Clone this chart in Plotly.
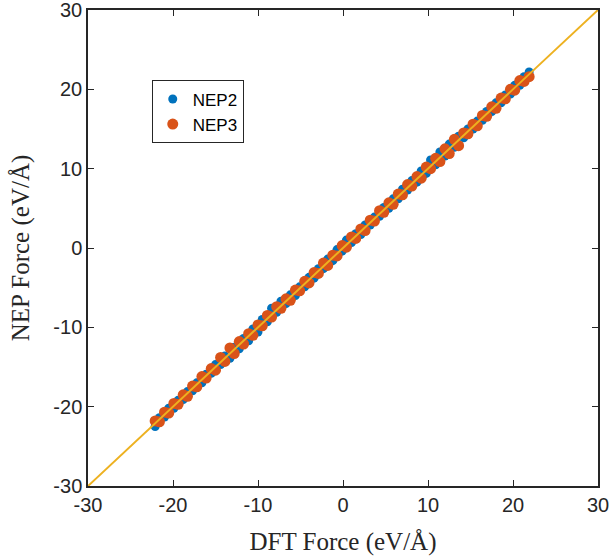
import plotly.graph_objects as go

dft = [-22.1, -21.6, -21.0, -20.5, -19.9, -19.4, -18.8, -18.3, -17.7, -17.2, -16.6, -16.1, -15.5, -15.0,
       -14.4, -13.9, -13.3, -12.8, -12.2, -11.7, -11.1, -10.6, -10.0, -9.5, -8.9, -8.4, -7.8, -7.3, -6.7,
       -6.2, -5.6, -5.1, -4.5, -4.0, -3.4, -2.9, -2.3, -1.8, -1.2, -0.7, -0.1, 0.4, 1.0, 1.5, 2.1, 2.6,
       3.2, 3.7, 4.3, 4.8, 5.4, 5.9, 6.5, 7.0, 7.6, 8.1, 8.7, 9.2, 9.8, 10.3, 10.9, 11.4, 12.0, 12.5,
       13.1, 13.6, 14.2, 14.7, 15.3, 15.8, 16.4, 16.9, 17.5, 18.0, 18.6, 19.1, 19.7, 20.2, 20.8, 21.3, 21.9]

nep2 = [-22.5, -21.4, -21.3, -20.2, -20.2, -19.2, -19.1, -18.1, -18.0, -17.0, -17.0, -15.9, -15.8, -14.7,
        -14.7, -13.6, -13.9, -12.5, -12.7, -11.4, -11.7, -10.2, -10.6, -9.0, -9.3, -7.6, -8.1, -6.7, -7.0,
        -5.9, -6.0, -4.9, -4.9, -3.7, -3.8, -2.6, -2.6, -1.4, -1.6, -0.2, -0.4, 1.0, 0.7, 1.8, 1.7, 2.9,
        2.9, 3.9, 4.0, 5.1, 5.0, 6.2, 6.2, 7.4, 7.3, 8.5, 8.3, 9.7, 9.4, 11.1, 10.5, 12.1, 11.6, 13.1,
        12.7, 14.1, 13.9, 15.0, 15.0, 16.0, 16.1, 17.2, 17.2, 18.3, 18.3, 19.3, 19.4, 20.5, 20.5, 21.6, 22.2]

nep3 = [-21.8, -21.9, -20.7, -20.8, -19.6, -19.7, -18.5, -18.7, -17.4, -17.5, -16.2, -16.4, -15.2, -15.4,
        -13.8, -14.3, -12.6, -13.3, -11.8, -12.1, -10.8, -11.0, -9.7, -9.8, -8.5, -8.7, -7.4, -7.6, -6.4,
        -6.6, -5.3, -5.4, -4.2, -4.4, -3.1, -3.2, -1.9, -2.2, -0.9, -1.0, 0.3, 0.1, 1.4, 1.2, 2.4, 2.2,
        3.5, 3.4, 4.7, 4.5, 5.7, 5.5, 6.8, 6.7, 8.0, 7.8, 9.0, 8.8, 10.2, 10.0, 11.3, 10.9, 12.5, 11.9,
        13.7, 12.9, 14.5, 14.4, 15.6, 15.4, 16.7, 16.6, 17.8, 17.6, 18.9, 18.8, 20.0, 19.9, 21.1, 21.0, 21.6]

ref_line = [-30, 30]
ticks = [-30, -20, -10, 0, 10, 20, 30]
tick_labels = ["-30", "-20", "-10", "0", "10", "20", "30"]

fig = go.Figure()
fig.add_trace(go.Scatter(x=dft, y=nep2, mode="markers", name="NEP2",
                         marker=dict(color="#0072BD", size=9, line=dict(width=0))))
fig.add_trace(go.Scatter(x=dft, y=nep3, mode="markers", name="NEP3",
                         marker=dict(color="#D95319", size=11, line=dict(width=0))))
fig.add_trace(go.Scatter(x=ref_line, y=ref_line, mode="lines", showlegend=False,
                         line=dict(color="#EDB120", width=2)))

axis_common = dict(range=[-30, 30], tickvals=ticks, ticktext=tick_labels, ticks="inside",
                   ticklen=6, tickwidth=1, automargin=False, ticklabeloverflow="allow",
                   tickcolor="#262626", showline=True, linecolor="#262626", linewidth=1.5,
                   mirror="ticks", showgrid=False, zeroline=False,
                   tickfont=dict(family="Liberation Sans, Arial", size=20, color="#262626"))

fig.update_layout(
    width=610, height=557,
    margin=dict(l=88, r=12, t=10, b=71),
    plot_bgcolor="white", paper_bgcolor="white",
    xaxis=dict(**axis_common, title=dict(text="DFT Force (eV/Å)", standoff=18,
               font=dict(family="Liberation Serif, Times New Roman", size=25, color="#262626"))),
    yaxis=dict(**axis_common, title=dict(text="NEP Force (eV/Å)", standoff=17,
               font=dict(family="Liberation Serif, Times New Roman", size=25, color="#262626"))),
    legend=dict(x=0.125, y=0.852, xanchor="left", yanchor="top",
                bgcolor="white", bordercolor="#262626", borderwidth=1,
                font=dict(family="Liberation Sans, Arial", size=17, color="#000000"),
                itemwidth=30, tracegroupgap=0, itemsizing="trace"),
    showlegend=True,
)

fig.write_html("out.html", config={"displayModeBar": False},
               post_script="document.body.style.margin='0px';document.body.style.overflow='hidden';")
